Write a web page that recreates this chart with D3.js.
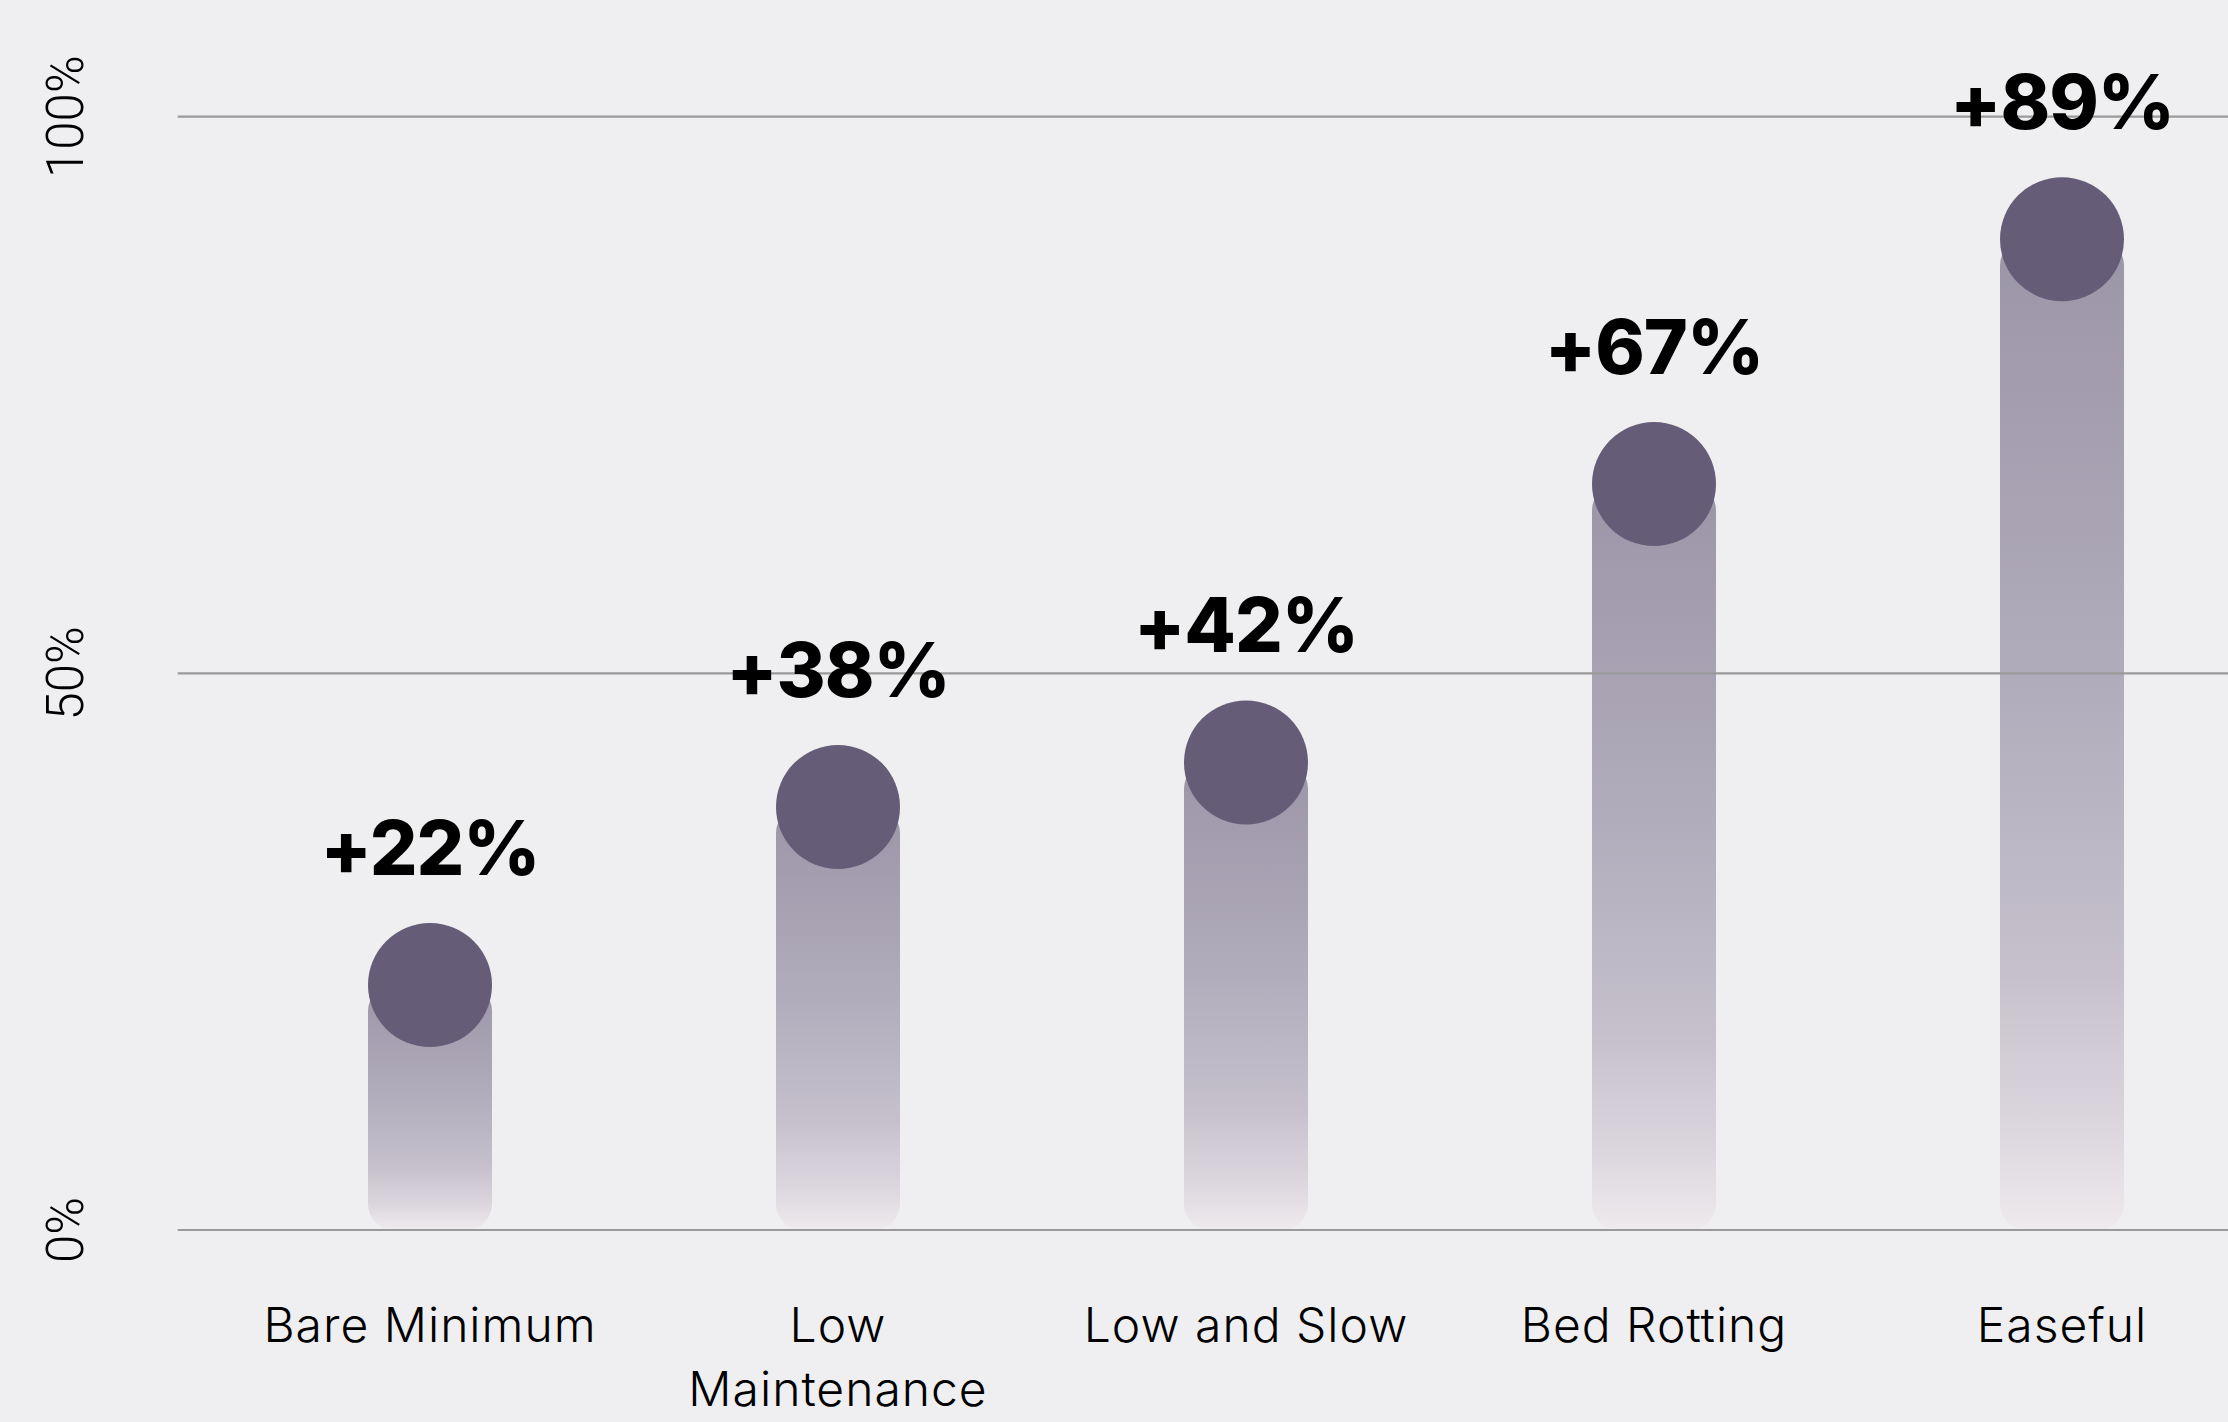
<!DOCTYPE html>
<html>
<head>
<meta charset="utf-8">
<script src="https://cdn.jsdelivr.net/npm/d3@7"></script>
<style>
  html, body { margin: 0; padding: 0; background: #efeff1; }
  svg { display: block; }
</style>
</head>
<body>
<svg id="chart"></svg>
<script>
// Share of people adopting each rest style, with growth shown above each bar
const categories = ["Bare Minimum", "Low Maintenance", "Low and Slow", "Bed Rotting", "Easeful"];
const growth = [22, 38, 42, 67, 89];
const yTicks = [0, 50, 100];
const yTickLabels = ["0%", "50%", "100%"];

const W = 2228, H = 1422;
const svg = d3.select("#chart").attr("width", W).attr("height", H);

const y = d3.scaleLinear().domain([0, 100]).range([1230, 116.7]);
const x = d3.scalePoint().domain(categories).range([430, 2062]);
const barW = 124;
const gridLeft = 177.7;

// vertical fade used by every bar
const grad = svg.append("defs").append("linearGradient")
  .attr("id", "barFade").attr("x1", 0).attr("y1", 0).attr("x2", 0).attr("y2", 1);
[[0, "#9b95a8"], [0.46, "#b2adbc"], [0.74, "#c5c0cc"], [0.9, "#dcd7de"], [1, "#eeeaed"]]
  .forEach(([o, c]) => grad.append("stop").attr("offset", o).attr("stop-color", c));

const rows = categories.map((c, i) => ({ cat: c, value: growth[i] }));

// bars
svg.append("g").selectAll("rect").data(rows).join("rect")
  .attr("x", d => x(d.cat) - barW / 2)
  .attr("y", d => y(d.value))
  .attr("width", barW)
  .attr("height", d => y(0) - y(d.value))
  .attr("rx", 26)
  .attr("fill", "url(#barFade)");

// horizontal gridlines
svg.append("g").selectAll("line").data(yTicks).join("line")
  .attr("x1", gridLeft).attr("x2", W)
  .attr("y1", d => y(d)).attr("y2", d => y(d))
  .attr("stroke", "#9a9a9a").attr("stroke-width", 2.2);

// y tick labels, rotated
svg.append("g").selectAll("text").data(yTicks).join("text")
  .attr("transform", d => `translate(83,${y(d)}) rotate(-90)`)
  .attr("text-anchor", "middle")
  .attr("font-family", "Roboto, sans-serif")
  .attr("font-weight", 300)
  .attr("font-size", 51)
  .attr("fill", "#000")
  .text((d, i) => yTickLabels[i]);

// circle heads
svg.append("g").selectAll("circle").data(rows).join("circle")
  .attr("cx", d => x(d.cat))
  .attr("cy", d => y(d.value))
  .attr("r", barW / 2)
  .attr("fill", "#655c77");

// value labels
svg.append("g").selectAll("text").data(rows).join("text")
  .attr("x", d => x(d.cat))
  .attr("y", d => y(d.value) - 110)
  .attr("text-anchor", "middle")
  .attr("font-family", "Inter, sans-serif")
  .attr("font-weight", 800)
  .attr("font-size", 75)
  .attr("letter-spacing", -1)
  .attr("fill", "#000")
  .text(d => `+${d.value}%`);

// category labels, wrapped when wider than the slot
const maxLabelW = 370;
const catG = svg.append("g")
  .attr("font-family", "Inter, sans-serif")
  .attr("font-weight", 300)
  .attr("font-size", 48)
  .attr("letter-spacing", 1)
  .attr("fill", "#000");
rows.forEach(d => {
  const t = catG.append("text").attr("x", x(d.cat)).attr("y", 1342).attr("text-anchor", "middle");
  const words = d.cat.split(" ");
  let lines = [], cur = [];
  const probe = catG.append("text").attr("visibility", "hidden");
  words.forEach(w => {
    const test = cur.concat(w).join(" ");
    probe.text(test);
    if (cur.length && probe.node().getComputedTextLength() > maxLabelW) {
      lines.push(cur.join(" ")); cur = [w];
    } else cur.push(w);
  });
  lines.push(cur.join(" "));
  probe.remove();
  lines.forEach((ln, i) => {
    t.append("tspan").attr("x", x(d.cat)).attr("dy", i === 0 ? 0 : 64).text(ln);
  });
});
</script>
</body>
</html>
